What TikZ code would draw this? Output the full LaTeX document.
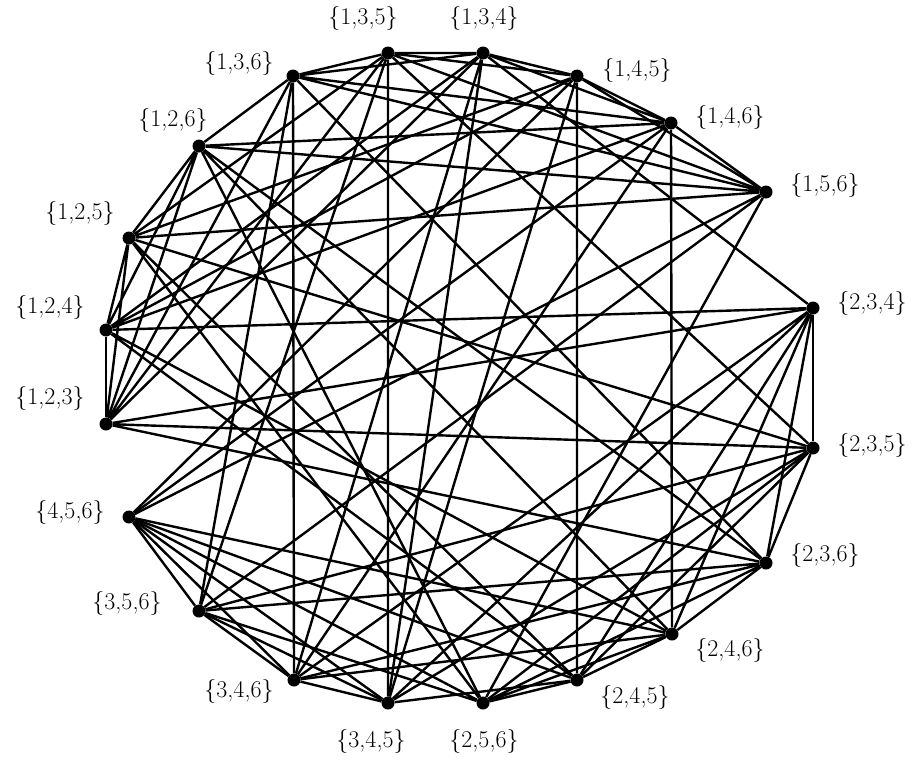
\documentclass[tikz,border=0pt]{standalone}
\begin{document}
\begin{tikzpicture}[x=1pt,y=-1pt,
  vtx/.style={circle,fill=black,inner sep=0pt,minimum size=13pt},
  lbl/.style={inner sep=0pt,font=\fontsize{24}{28}\selectfont},
  edge/.style={line width=2.4pt,black},
  thinedge/.style={line width=1.2pt,black}]
\useasboundingbox[fill=white] (0,0) rectangle (914,761);
% vertices
\foreach \n/\x/\y in {135/388/53,134/483/53,136/293/76,145/577/76,126/199/146,146/671/123,
  125/129/238,156/766/192,124/106/330,234/813/308,123/106/424,235/813/448,
  456/129/517,236/766/563,356/199/611,246/672/634,346/294/680,245/577/680,
  345/388/703,256/483/703}
  \node[vtx] (v\n) at (\x,\y) {};
% edges: for each pair of elements, the four triples containing it are mutually adjacent
\foreach \a/\b/\c/\d in {123/134/135/136,124/134/145/146,125/135/145/156,
  126/136/146/156,124/234/245/246,125/235/245/256,126/236/246/256,
  134/234/345/346,135/235/345/356,136/236/346/356,145/245/345/456,146/246/346/456,
  156/256/356/456}
  \draw[edge] (v\a)--(v\b) (v\a)--(v\c) (v\a)--(v\d) (v\b)--(v\c) (v\b)--(v\d) (v\c)--(v\d);
% the cliques of {1,2} and {2,3}, whose short rim edges are thinner
\draw[edge] (v123)--(v125) (v123)--(v126) (v124)--(v125) (v124)--(v126) (v125)--(v126);
\draw[edge] (v123)--(v234) (v123)--(v235) (v123)--(v236) (v234)--(v236) (v235)--(v236);
\draw[thinedge] (v123)--(v124) (v234)--(v235);
% labels
\foreach \n/\t/\x/\y in {135/{1,3,5}/363/18,134/{1,3,4}/484/18,136/{1,3,6}/239/63,
  145/{1,4,5}/637/70,126/{1,2,6}/173/120,146/{1,4,6}/730/117,125/{1,2,5}/80/213,
  156/{1,5,6}/825/185,124/{1,2,4}/50/307,234/{2,3,4}/872/303,123/{1,2,3}/50/398,
  235/{2,3,5}/872/445,456/{4,5,6}/70/512,236/{2,3,6}/825/555,356/{3,5,6}/127/603,
  246/{2,4,6}/730/650,346/{3,4,6}/239/691,245/{2,4,5}/635/697,345/{3,4,5}/371/741,
  256/{2,5,6}/484/741}
  \node[lbl] (l\n) at (\x,\y) {\{\t\}};
\end{tikzpicture}
\end{document}
